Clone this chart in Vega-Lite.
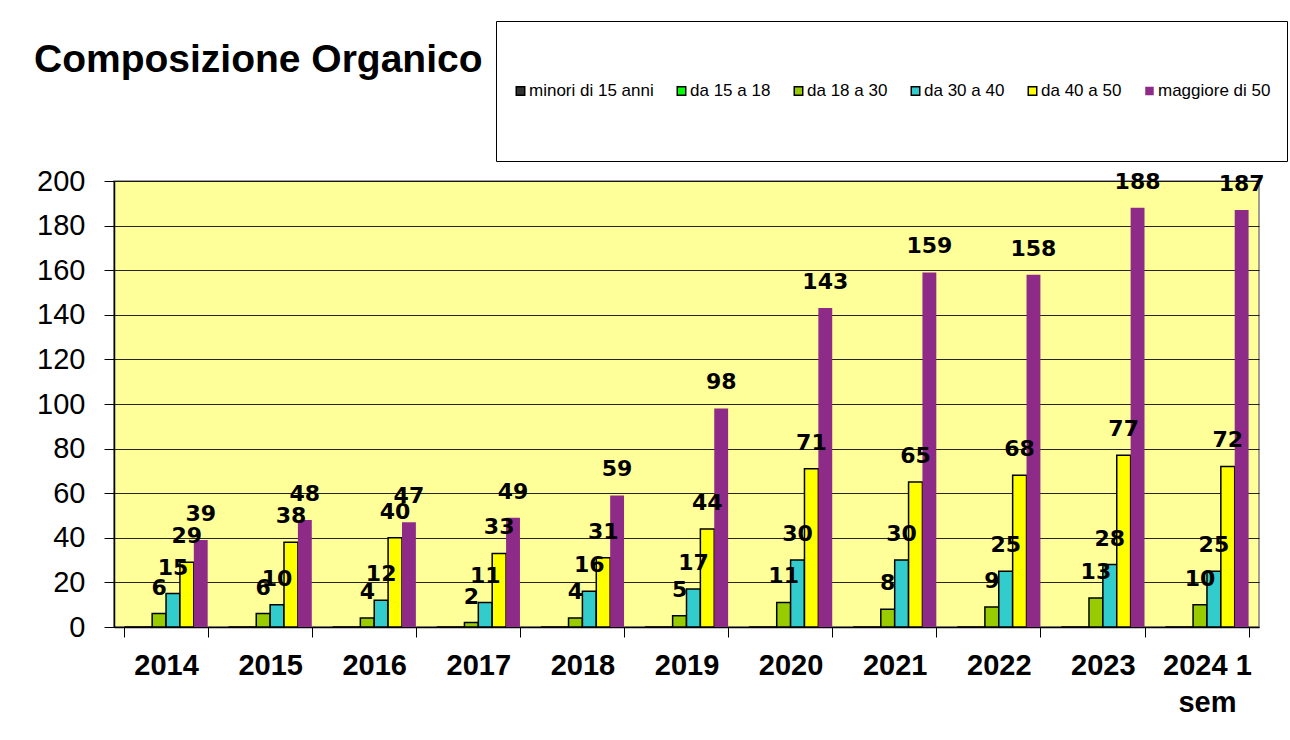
{
  "$schema": "https://vega.github.io/schema/vega-lite/v6.json",
  "width": 1145,
  "height": 446,
  "padding": {"left": 34, "top": 20, "right": 2, "bottom": 5},
  "background": "white",
  "title": {
    "text": "Composizione Organico",
    "anchor": "start",
    "frame": "group",
    "dx": -80,
    "offset": -59,
    "fontSize": 39,
    "font": "Liberation Sans",
    "fontWeight": "bold",
    "color": "black"
  },
  "data": {
    "values": [
      {"anno": "2014", "minori di 15 anni": 0, "da 15 a 18": 0, "da 18 a 30": 6, "da 30 a 40": 15, "da 40 a 50": 29, "maggiore di 50": 39},
      {"anno": "2015", "minori di 15 anni": 0, "da 15 a 18": 0, "da 18 a 30": 6, "da 30 a 40": 10, "da 40 a 50": 38, "maggiore di 50": 48},
      {"anno": "2016", "minori di 15 anni": 0, "da 15 a 18": 0, "da 18 a 30": 4, "da 30 a 40": 12, "da 40 a 50": 40, "maggiore di 50": 47},
      {"anno": "2017", "minori di 15 anni": 0, "da 15 a 18": 0, "da 18 a 30": 2, "da 30 a 40": 11, "da 40 a 50": 33, "maggiore di 50": 49},
      {"anno": "2018", "minori di 15 anni": 0, "da 15 a 18": 0, "da 18 a 30": 4, "da 30 a 40": 16, "da 40 a 50": 31, "maggiore di 50": 59},
      {"anno": "2019", "minori di 15 anni": 0, "da 15 a 18": 0, "da 18 a 30": 5, "da 30 a 40": 17, "da 40 a 50": 44, "maggiore di 50": 98},
      {"anno": "2020", "minori di 15 anni": 0, "da 15 a 18": 0, "da 18 a 30": 11, "da 30 a 40": 30, "da 40 a 50": 71, "maggiore di 50": 143},
      {"anno": "2021", "minori di 15 anni": 0, "da 15 a 18": 0, "da 18 a 30": 8, "da 30 a 40": 30, "da 40 a 50": 65, "maggiore di 50": 159},
      {"anno": "2022", "minori di 15 anni": 0, "da 15 a 18": 0, "da 18 a 30": 9, "da 30 a 40": 25, "da 40 a 50": 68, "maggiore di 50": 158},
      {"anno": "2023", "minori di 15 anni": 0, "da 15 a 18": 0, "da 18 a 30": 13, "da 30 a 40": 28, "da 40 a 50": 77, "maggiore di 50": 188},
      {"anno": "2024 1 sem", "minori di 15 anni": 0, "da 15 a 18": 0, "da 18 a 30": 10, "da 30 a 40": 25, "da 40 a 50": 72, "maggiore di 50": 187}
    ]
  },
  "transform": [
    {"fold": ["minori di 15 anni", "da 15 a 18", "da 18 a 30", "da 30 a 40", "da 40 a 50", "maggiore di 50"], "as": ["fascia", "valore"]}
  ],
  "encoding": {
    "x": {
      "field": "anno",
      "type": "nominal",
      "sort": null,
      "scale": {"paddingInner": 0.2, "paddingOuter": 0.1},
      "axis": {
        "title": null,
        "labelAngle": 0,
        "labelFont": "Liberation Sans",
        "labelFontWeight": "bold",
        "labelFontSize": 29,
        "labelColor": "black",
        "labelOverlap": false,
        "labelBound": false,
        "labelPadding": 14,
        "labelLineHeight": 37,
        "labelExpr": "datum.value == '2024 1 sem' ? ['2024 1', 'sem'] : datum.value",
        "tickBand": "extent",
        "tickSize": 10,
        "tickColor": "black",
        "tickWidth": 1,
        "domainColor": "black",
        "domainWidth": 1.5
      }
    },
    "xOffset": {
      "field": "fascia",
      "type": "nominal",
      "sort": ["minori di 15 anni", "da 15 a 18", "da 18 a 30", "da 30 a 40", "da 40 a 50", "maggiore di 50"],
      "scale": {"domain": ["minori di 15 anni", "da 15 a 18", "da 18 a 30", "da 30 a 40", "da 40 a 50", "maggiore di 50"], "paddingInner": 0, "paddingOuter": 0}
    },
    "y": {
      "field": "valore",
      "type": "quantitative",
      "scale": {"domain": [0, 200], "nice": false},
      "axis": {
        "title": null,
        "values": [0, 20, 40, 60, 80, 100, 120, 140, 160, 180, 200],
        "labelFont": "Liberation Sans",
        "labelFontSize": 29,
        "labelColor": "black",
        "labelPadding": 19,
        "tickSize": 10,
        "tickColor": "black",
        "domainColor": "black",
        "domainWidth": 1.5,
        "gridColor": "black",
        "gridWidth": 1,
        "gridOpacity": 0.85
      }
    }
  },
  "layer": [
    {
      "mark": {"type": "bar", "stroke": "black"},
      "encoding": {
        "color": {
          "field": "fascia",
          "type": "nominal",
          "scale": {
            "domain": ["minori di 15 anni", "da 15 a 18", "da 18 a 30", "da 30 a 40", "da 40 a 50", "maggiore di 50"],
            "range": ["#333333", "#00FF00", "#99CC00", "#33CCCC", "#FFFF00", "#8E2A88"]
          },
          "legend": {
            "orient": "none",
            "legendX": 382,
            "legendY": -160,
            "direction": "horizontal",
            "columns": 6,
            "title": null,
            "strokeColor": "#000000",
            "fillColor": "white",
            "padding": 16,
            "clipHeight": 108,
            "labelFont": "Liberation Sans",
            "labelFontSize": 17,
            "labelColor": "black",
            "labelOffset": 0,
            "labelBaseline": "middle",
            "labelLimit": 300,
            "symbolType": "square",
            "symbolSize": 72,
            "symbolStrokeColor": "black",
            "symbolStrokeWidth": 1.5,
            "symbolOpacity": 1,
            "columnPadding": 19,
            "encode": {
              "symbols": {
                "update": {
                  "strokeWidth": {"signal": "datum.value === 'maggiore di 50' ? 0 : 1.5"}
                }
              }
            }
          }
        },
        "strokeWidth": {
          "condition": {"test": "datum.fascia === 'maggiore di 50'", "value": 0},
          "value": 1.5
        }
      }
    },
    {
      "transform": [{"filter": "datum.valore > 0"}],
      "mark": {"type": "text", "baseline": "alphabetic", "dy": -19, "font": "DejaVu Sans", "fontWeight": "bold", "fontSize": 22, "color": "black"},
      "encoding": {
        "text": {"field": "valore", "type": "quantitative"}
      }
    }
  ],
  "config": {
    "view": {"fill": "#FFFF99", "stroke": "#808080", "strokeWidth": 1.5}
  }
}
